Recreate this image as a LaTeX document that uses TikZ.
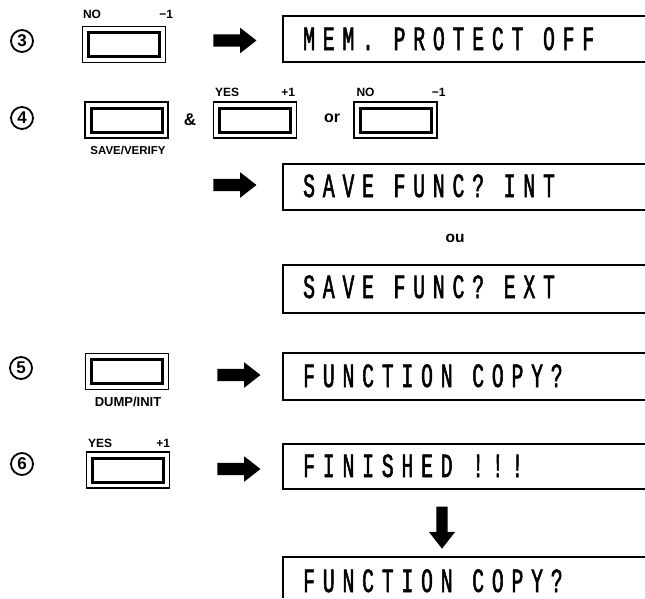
\documentclass[tikz,border=0pt]{standalone}
\usepackage{fontspec}
\setmainfont{Liberation Sans}
\newfontfamily\lcd[FakeStretch=0.58,FakeBold=1.5,LetterSpace=23]{Liberation Mono}
\usetikzlibrary{shapes.arrows}
\tikzset{
  btn/.style={draw, line width=1.4pt, minimum width=83pt, minimum height=36pt, inner sep=0pt,
    path picture={\draw[line width=3pt]
      ([shift={(6pt,-6pt)}]path picture bounding box.north west) rectangle
      ([shift={(-6pt,6pt)}]path picture bounding box.south east);}},
  circnum/.style={circle, draw, line width=1.8pt, minimum size=22pt, inner sep=0pt,
    font=\bfseries\fontsize{17}{17}\selectfont},
  keylab/.style={font=\bfseries\fontsize{12}{13}\selectfont, inner sep=0pt},
  sublab/.style={font=\bfseries\fontsize{12}{13}\selectfont, inner sep=0pt},
  wordlab/.style={font=\bfseries\fontsize{16}{16}\selectfont, inner sep=0pt},
  lcdtext/.style={font=\lcd\fontsize{34}{34}\selectfont, anchor=base west, inner sep=0pt},
  lcdbox/.style={line width=2pt},
  fatarrow/.style={single arrow, fill=black, draw=none, inner xsep=0pt, inner ysep=6pt,
    single arrow head extend=6.5pt, single arrow tip angle=76, minimum height=43pt},
}
\begin{document}
\begin{tikzpicture}[x=1pt,y=-1pt]
\useasboundingbox (0,0) rectangle (645,598);
% ---- step 3
\node[circnum] (c3) at (22,41) {3};
\node[btn] (b3) at (124,44.5) {};
\node[keylab, anchor=base west] (b3no) at ([shift={(1pt,7pt)}]b3.north west) {NO};
\node[keylab, anchor=base east] (b3m) at ([shift={(7pt,7pt)}]b3.north east) {−1};
\node[fatarrow] (a3) at (231,40.5) {};
\draw[lcdbox] (645,16) -| (283,62) -- (645,62);
\node[lcdtext] (t3) at (303,50) {MEM. PROTECT OFF};
% ---- step 4
\node[circnum] (c4) at (22,118) {4};
\node[btn] (b4s) at (126.5,120) {};
\node[sublab, font=\bfseries\fontsize{11.5}{12}\selectfont] (b4sl) at (128,150) {SAVE/VERIFY};
\node[wordlab, font=\bfseries\fontsize{17}{17}\selectfont] (amp) at (190,120) {\&};
\node[btn] (b4y) at (255,120) {};
\node[keylab, anchor=base west] (b4yl) at ([shift={(2pt,5pt)}]b4y.north west) {YES};
\node[keylab, anchor=base east] (b4yp) at ([shift={(-2pt,5pt)}]b4y.north east) {+1};
\node[wordlab] (or) at (332,118) {or};
\node[btn] (b4n) at (395.5,120) {};
\node[keylab, anchor=base west] (b4nl) at ([shift={(3pt,5pt)}]b4n.north west) {NO};
\node[keylab, anchor=base east] (b4nm) at ([shift={(8pt,5pt)}]b4n.north east) {−1};
\node[fatarrow] (a4) at (231,185) {};
\draw[lcdbox] (645,164) -| (283,210) -- (645,210);
\node[lcdtext] (t4a) at (303,197) {SAVE FUNC? INT};
\node[wordlab, font=\bfseries\fontsize{15.5}{16}\selectfont] (ou) at (455,238) {ou};
\draw[lcdbox] (645,265) -| (283,313) -- (645,313);
\node[lcdtext] (t4b) at (303,298) {SAVE FUNC? EXT};
% ---- step 5
\node[circnum] (c5) at (21,368) {5};
\node[btn] (b5) at (127,371.5) {};
\node[sublab, font=\bfseries\fontsize{13}{13}\selectfont] (b5l) at (128,402) {DUMP/INIT};
\node[fatarrow] (a5) at (235,375) {};
\draw[lcdbox] (645,353) -| (283,400) -- (645,400);
\node[lcdtext] (t5) at (303,387) {FUNCTION COPY?};
% ---- step 6
\node[circnum] (c6) at (22,464) {6};
\node[btn] (b6) at (128,470) {};
\node[keylab, anchor=base west] (b6yl) at ([shift={(2pt,4pt)}]b6.north west) {YES};
\node[keylab, anchor=base east] (b6yp) at ([shift={(0pt,4pt)}]b6.north east) {+1};
\node[fatarrow] (a6) at (235,469) {};
\draw[lcdbox] (645,444) -| (283,489) -- (645,489);
\node[lcdtext] (t6) at (303,477) {FINISHED !!!};
\node[fatarrow, rotate=-90, inner ysep=5.5pt, single arrow head extend=7.5pt, minimum height=42pt] (ad) at (442,524) {};
\draw[lcdbox] (645,557) -| (283,598);
\node[lcdtext] (t7) at (303,592) {FUNCTION COPY?};
\end{tikzpicture}
\end{document}
